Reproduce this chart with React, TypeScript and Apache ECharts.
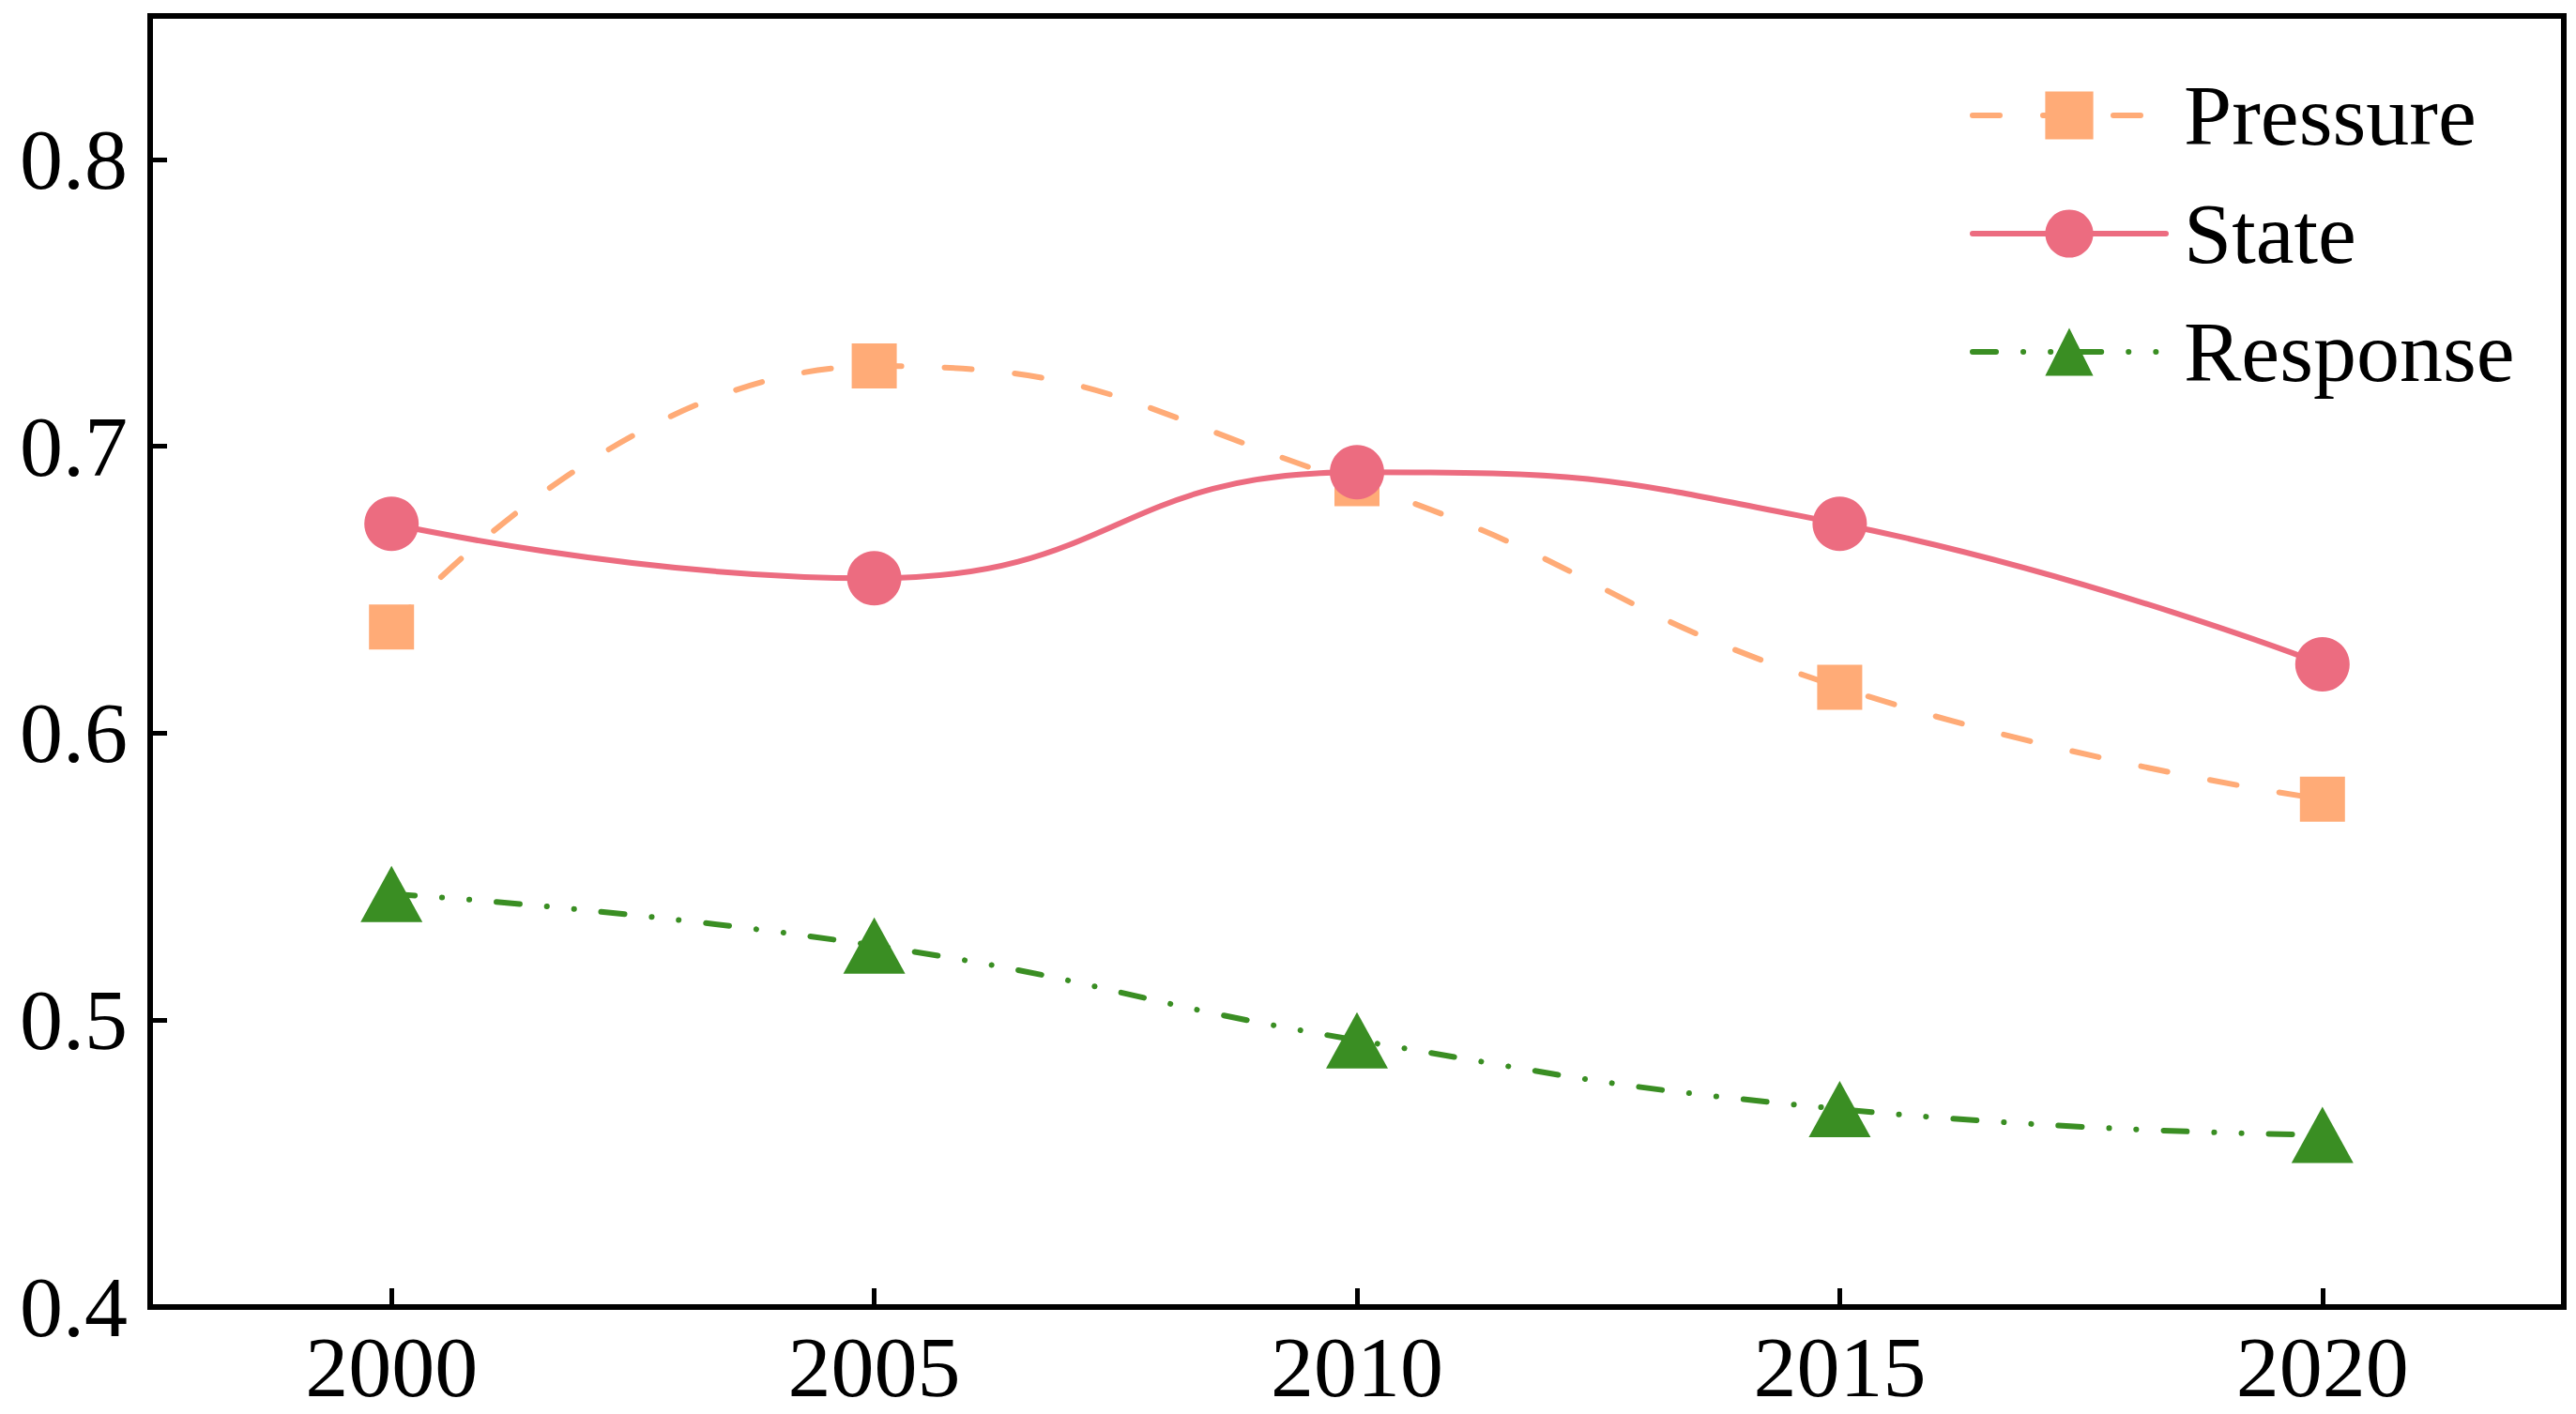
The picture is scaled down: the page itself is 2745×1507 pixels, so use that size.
import React, { useEffect, useRef } from "react";
import * as echarts from "echarts";

const years = ["2000", "2005", "2010", "2015", "2020"];
const pressure = [0.637, 0.728, 0.687, 0.616, 0.577];
const state = [0.673, 0.654, 0.691, 0.673, 0.624];
const response = [0.544, 0.526, 0.493, 0.469, 0.460];
const seriesNames = ["Pressure", "State", "Response"];

const FONT = "'Liberation Serif', 'Times New Roman', serif";

export default function App() {
  const ref = useRef<HTMLDivElement>(null);
  useEffect(() => {
    if (!ref.current) return;
    const chart = echarts.init(ref.current, undefined, { renderer: "svg" });
    chart.setOption({
      animation: false,
      backgroundColor: "#ffffff",
      grid: {
        left: 160,
        right: 13,
        top: 17,
        bottom: 114,
        show: true,
        borderColor: "#000",
        borderWidth: 6,
        containLabel: false,
      },
      legend: {
        left: 2094,
        top: 72,
        orient: "vertical",
        itemWidth: 206,
        itemHeight: 64,
        itemGap: 34,
        lineStyle: { width: 6, cap: "round" },
        textStyle: {
          fontFamily: FONT,
          fontSize: 92,
          color: "#000",
          lineHeight: 92,
          padding: [0, 0, 0, 14],
        },
        data: seriesNames,
      },
      xAxis: {
        type: "category",
        data: years,
        boundaryGap: true,
        axisLine: { show: true, lineStyle: { color: "#000", width: 6 } },
        axisTick: {
          show: true,
          inside: true,
          alignWithLabel: true,
          length: 20,
          lineStyle: { color: "#000", width: 5 },
        },
        axisLabel: {
          fontFamily: FONT,
          fontSize: 92,
          color: "#000",
          lineHeight: 70,
          margin: 29,
        },
        splitLine: { show: false },
      },
      yAxis: {
        type: "value",
        min: 0.4,
        max: 0.85,
        interval: 0.1,
        axisLine: { show: true, lineStyle: { color: "#000", width: 6 } },
        axisTick: {
          show: true,
          inside: true,
          length: 18,
          lineStyle: { color: "#000", width: 5 },
        },
        axisLabel: {
          fontFamily: FONT,
          fontSize: 92,
          color: "#000",
          margin: 24,
          showMaxLabel: false,
          formatter: (v: number) => v.toFixed(1),
        },
        splitLine: { show: false },
      },
      series: [
        {
          name: "Pressure",
          type: "line",
          data: pressure,
          smooth: true,
          symbol: "rect",
          symbolSize: 48,
          itemStyle: { color: "#FFAB77" },
          lineStyle: { color: "#FFAB77", width: 6, type: [29, 46], cap: "round" },
        },
        {
          name: "State",
          type: "line",
          data: state,
          smooth: true,
          symbol: "circle",
          symbolSize: 58,
          itemStyle: { color: "#EC6C80" },
          lineStyle: { color: "#EC6C80", width: 6, type: "solid", cap: "round" },
        },
        {
          name: "Response",
          type: "line",
          data: response,
          smooth: true,
          symbol: "triangle",
          symbolSize: [66, 60],
          itemStyle: { color: "#3A8E23" },
          lineStyle: {
            color: "#3A8E23",
            width: 6,
            type: [25, 29, 0.1, 29, 0.1, 29],
            cap: "round",
          },
        },
      ],
    });
    return () => chart.dispose();
  }, []);
  return (
    <div
      ref={ref}
      style={{ position: "absolute", left: 0, top: 0, width: 2745, height: 1507 }}
    />
  );
}
